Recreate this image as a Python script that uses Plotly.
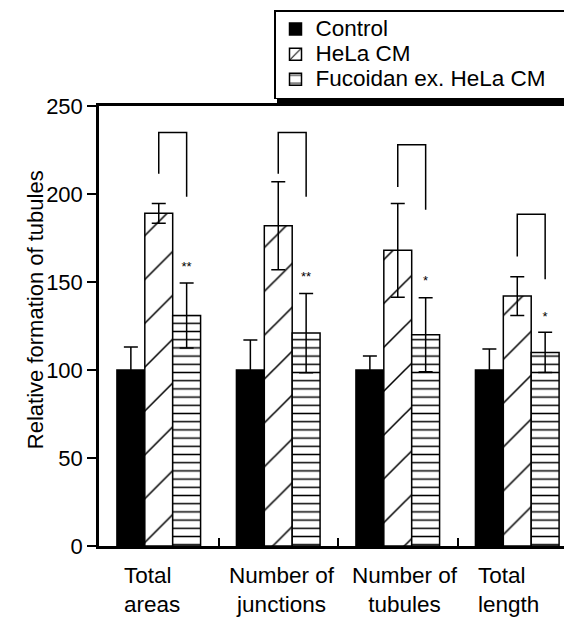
import plotly.graph_objects as go

categories = ["Total<br>areas", "Number of<br>junctions", "Number of<br>tubules", "Total<br>length"]
series_names = ["Control", "HeLa CM", "Fucoidan ex. HeLa CM"]
control = [100, 100, 100, 100]
control_err = [13, 17, 8, 12]
hela = [189, 182, 168, 142]
hela_err = [5.6, 25, 26.6, 11]
fucoidan = [131, 121, 120, 110]
fucoidan_err = [18.5, 22.5, 21, 11.4]
bracket_top = [235, 235, 228, 188.5]
bracket_left_end = [211.5, 211.5, 204, 164.5]
bracket_right_end = [198.5, 198.5, 191, 151.5]
stars = ["**", "**", "*", "*"]
star_y = [158, 152.5, 150, 129.5]
y_ticks = [0, 50, 100, 150, 200, 250]

BARGAP = 0.3
BW = (1 - BARGAP) / 3
FONT = "Liberation Sans, Arial, sans-serif"

def leg(name, pad=0):
    return '<span style="font-size:22.5px">' + name + "&nbsp;" * pad + '</span>'

fig = go.Figure()
line = dict(color="black", width=1.5)
err = lambda a: dict(type="data", array=a, visible=True, color="black", thickness=1.5, width=7)

def pat(shape, size, solidity):
    return dict(shape=shape, size=size, solidity=solidity, fgcolor="black",
                bgcolor="white", fgopacity=1, fillmode="replace")

fig.add_trace(go.Bar(x=categories, y=control, showlegend=False,
                     marker=dict(color="black", line=line), error_y=err(control_err)))
fig.add_trace(go.Bar(x=categories, y=hela, showlegend=False,
                     marker=dict(color="white", line=line, pattern=pat("/", 31, 0.05)),
                     error_y=err(hela_err)))
fig.add_trace(go.Bar(x=categories, y=fucoidan, showlegend=False,
                     marker=dict(color="white", line=line, pattern=pat("-", 8.2, 0.18)),
                     error_y=err(fucoidan_err)))

# legend entries (symbols tuned for the small legend swatch)
fig.add_trace(go.Bar(x=[None], y=[None], xaxis="x2", name=leg(series_names[0]),
                     marker=dict(color="black", line=line)))
fig.add_trace(go.Bar(x=[None], y=[None], xaxis="x2", name=leg(series_names[1]),
                     marker=dict(color="white", line=line, pattern=pat("/", 12, 0.12))))
fig.add_trace(go.Bar(x=[None], y=[None], xaxis="x2", name=leg(series_names[2], 2),
                     marker=dict(color="white", line=line, pattern=pat("-", 12, 0.12))))

bx, by = [], []
for i in range(len(categories)):
    bx += [i, i, i + BW, i + BW, None]
    by += [bracket_left_end[i], bracket_top[i], bracket_top[i], bracket_right_end[i], None]
fig.add_trace(go.Scatter(x=bx, y=by, mode="lines", line=dict(color="black", width=1.5),
                         xaxis="x2", showlegend=False, hoverinfo="skip"))
fig.add_trace(go.Scatter(x=[i + BW for i in range(len(categories))], y=star_y, mode="text",
                         text=stars, textposition="middle center",
                         textfont=dict(family=FONT, size=13, color="black"),
                         xaxis="x2", showlegend=False, hoverinfo="skip"))

# category labels, placed under each category
label_align = ["left", "center", "center", "left"]
label_shift = [-37, 4, 7, -41]
annotations = []
for i, lab in enumerate(categories):
    annotations.append(dict(text=lab, xref="x2", yref="paper", x=i, y=-0.1,
                            xanchor="left" if label_align[i] == "left" else "center",
                            yanchor="middle", align=label_align[i], xshift=label_shift[i],
                            showarrow=False, font=dict(size=22.5)))
annotations.append(dict(text="Relative formation of tubules", xref="paper", yref="paper",
                        x=-0.1353, y=0.536, textangle=-90, showarrow=False,
                        font=dict(size=22), xanchor="center", yanchor="middle"))

# legend box position (paper units of the plot area: 473 x 440 px)
PW, PH = 473.0, 440.0
LEG_L, LEG_T = (274 - 99) / PW, 1 + (106 - 10) / PH
LEG_W, LEG_H = 295 / PW, 91 / PH
SH = 3.0
shapes = [dict(type="rect", xref="paper", yref="paper", layer="above",
               x0=LEG_L + SH / PW, x1=LEG_L + LEG_W + SH / PW,
               y0=LEG_T - LEG_H - SH / PH, y1=LEG_T - SH / PH,
               fillcolor="black", line=dict(width=0))]

xr = [-0.5, 3.458]
fig.update_layout(
    width=564, height=611,
    margin=dict(l=91, r=0, t=98, b=73, autoexpand=False),
    paper_bgcolor="white", plot_bgcolor="white",
    barmode="group", bargap=BARGAP, bargroupgap=0,
    font=dict(family=FONT, color="black"),
    xaxis=dict(type="category", range=xr, showline=True, linewidth=2.5, linecolor="black",
               mirror=True, ticks="inside", tickson="boundaries", ticklen=8, tickwidth=1.5,
               tickcolor="black", showticklabels=False, automargin=False, showgrid=False),
    xaxis2=dict(overlaying="x", range=xr, visible=False, type="linear"),
    yaxis=dict(range=[0, 250], tickvals=y_ticks, ticks="outside", ticklen=9, tickwidth=1.5,
               tickcolor="black", showline=True, linewidth=2.5, linecolor="black",
               showgrid=False, zeroline=False, tickfont=dict(size=22), automargin=False),
    legend=dict(x=LEG_L, xanchor="left", y=LEG_T, yanchor="top",
                font=dict(family=FONT, size=17), bordercolor="black", borderwidth=1.5,
                bgcolor="white", traceorder="normal"),
    annotations=annotations,
    shapes=shapes,
    showlegend=True,
)
fig.write_html("out.html")
